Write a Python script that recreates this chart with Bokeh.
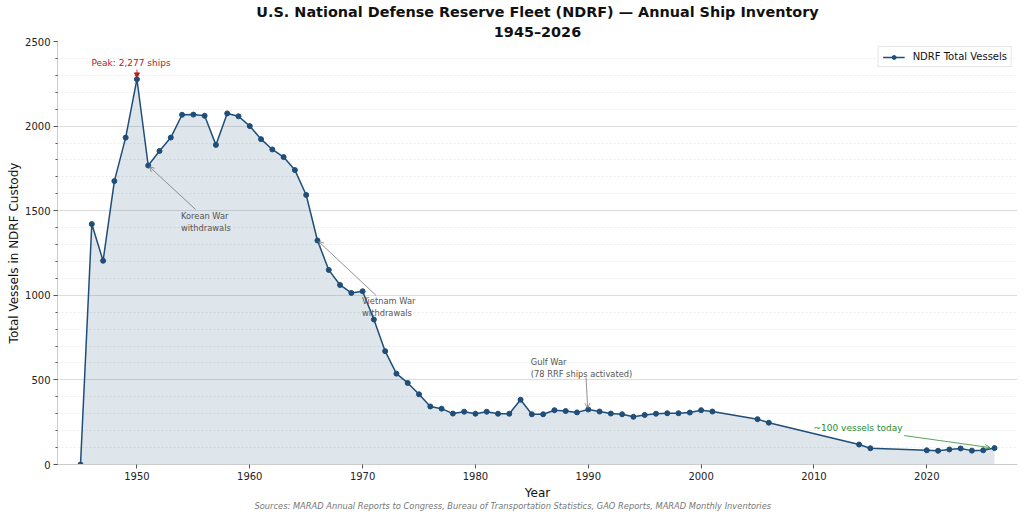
from bokeh.plotting import figure
from bokeh.models import (Range1d, SingleIntervalTicker, Arrow, OpenHead, NormalHead,
                          Label, Title)
from bokeh.embed import file_html
from bokeh.resources import INLINE

# ---- data ----
years = [1945, 1946, 1947, 1948, 1949, 1950, 1951, 1952, 1953, 1954, 1955, 1956, 1957,
         1958, 1959, 1960, 1961, 1962, 1963, 1964, 1965, 1966, 1967, 1968, 1969, 1970,
         1971, 1972, 1973, 1974, 1975, 1976, 1977, 1978, 1979, 1980, 1981, 1982, 1983,
         1984, 1985, 1986, 1987, 1988, 1989, 1990, 1991, 1992, 1993, 1994, 1995, 1996,
         1997, 1998, 1999, 2000, 2001, 2005, 2006, 2014, 2015, 2020, 2021, 2022, 2023,
         2024, 2025, 2026]
vessels = [0, 1421, 1204, 1675, 1932, 2277, 1767, 1853, 1932, 2067, 2068, 2061, 1889,
           2075, 2058, 2000, 1923, 1862, 1817, 1740, 1593, 1324, 1150, 1061, 1014, 1024,
           857, 670, 537, 482, 415, 343, 330, 301, 312, 300, 312, 300, 300,
           383, 297, 297, 321, 316, 308, 325, 313, 301, 297, 282, 293, 300,
           303, 303, 307, 321, 313, 268, 247, 118, 96, 84, 81, 89, 95,
           82, 84, 97]
series_label = "NDRF Total Vessels"
title_line1 = "U.S. National Defense Reserve Fleet (NDRF) \u2014 Annual Ship Inventory"
title_line2 = "1945\u20132026"
source_text = ("Sources: MARAD Annual Reports to Congress, Bureau of Transportation Statistics, "
               "GAO Reports, MARAD Monthly Inventories")

FONT = "DejaVu Sans"
LINE = "#1f4e79"

p = figure(width=1020, height=512, output_backend="svg", toolbar_location=None,
           x_range=Range1d(1942.96, 2028.04), y_range=Range1d(0, 2500),
           min_border_left=57, min_border_right=3, min_border_top=41, min_border_bottom=48,
           title=None)
p.outline_line_color = None
p.background_fill_color = "white"

# titles (added inner-most first)
p.add_layout(Title(text=title_line2, align="center", text_font=FONT, text_font_size="14.4px",
                   text_font_style="bold", text_color="#111111", standoff=4), "above")
p.add_layout(Title(text=title_line1, align="center", text_font=FONT, text_font_size="14.4px",
                   text_font_style="bold", text_color="#111111", standoff=0), "above")

# area + line + markers
p.varea(x=years, y1=0, y2=vessels, fill_color=LINE, fill_alpha=0.15)
p.line(years, vessels, line_color=LINE, line_width=1.5, legend_label=series_label)
p.scatter(years, vessels, size=5, fill_color=LINE, line_color=LINE, legend_label=series_label)

# axes
p.xaxis.ticker = SingleIntervalTicker(interval=10, num_minor_ticks=0)
p.yaxis.ticker = SingleIntervalTicker(interval=500, num_minor_ticks=5)
for ax in (p.xaxis[0], p.yaxis[0]):
    ax.axis_line_color = "#cccccc"
    ax.major_tick_line_color = "#555555"
    ax.minor_tick_line_color = "#555555"
    ax.major_tick_out = 4
    ax.major_tick_in = 0
    ax.minor_tick_out = 2
    ax.minor_tick_in = 0
    ax.major_label_text_font = FONT
    ax.major_label_text_font_size = "10px"
    ax.major_label_text_color = "#222222"
    ax.axis_label_text_font = FONT
    ax.axis_label_text_font_size = "12px"
    ax.axis_label_text_font_style = "normal"
    ax.axis_label_text_color = "#111111"
p.xaxis.minor_tick_line_color = None
p.xaxis.axis_label = "Year"
p.yaxis.axis_label = "Total Vessels in NDRF Custody"
p.xaxis.major_label_standoff = 3
p.xaxis.axis_label_standoff = 3
p.yaxis.major_label_standoff = 3
p.yaxis.axis_label_standoff = 1

# grids
p.xgrid.grid_line_color = None
p.ygrid.grid_line_color = "#dddddd"
p.ygrid.grid_line_width = 1
p.ygrid.minor_grid_line_color = "#e8e8e8"
p.ygrid.minor_grid_line_dash = "2 2"
p.ygrid.minor_grid_line_width = 0.8

# source note
p.add_layout(Title(text=source_text, align="left", offset=197, text_font=FONT,
                   text_font_size="8.3px", text_font_style="italic", text_color="#777777",
                   standoff=-7), "below")

# annotations
GRAY = "#555555"
def note(x, y, text, color, size, baseline="top"):
    p.add_layout(Label(x=x, y=y, text=text, text_font=FONT, text_font_size=size,
                       text_color=color, text_align="left", text_baseline=baseline))

def arrow(x0, y0, x1, y1, color, filled=False):
    head = (NormalHead(size=5, fill_color=color, line_color=color) if filled
            else OpenHead(size=5, line_color=color, line_width=0.8))
    p.add_layout(Arrow(end=head, x_start=x0, y_start=y0, x_end=x1, y_end=y1,
                       line_color=color, line_width=0.8))

note(1945.97, 2370, "Peak: 2,277 ships", "#b22222", "9px", "middle")
arrow(1950, 2335, 1950, 2285, "#b22222", filled=True)

note(1953.9, 1501, "Korean War\nwithdrawals", GRAY, "8.3px")
arrow(1955.2, 1507, 1951.1, 1760, "#777777")

note(1969.95, 993, "Vietnam War\nwithdrawals", GRAY, "8.3px")
arrow(1971.2, 999, 1966.1, 1318, "#777777")

note(1984.9, 638, "Gulf War\n(78 RRF ships activated)", GRAY, "8.3px")
arrow(1989.8, 514, 1989.95, 333, "#777777")

note(2009.96, 213, "~100 vessels today", "#2e8b2e", "9px", "middle")
arrow(2018.0, 171, 2025.6, 100, "#2e8b2e")

# legend
lg = p.legend[0]
lg.location = "top_right"
lg.margin = 5
lg.padding = 4
lg.spacing = 0
lg.glyph_width = 22
lg.glyph_height = 10
lg.label_height = 10
lg.label_standoff = 8
lg.label_text_font = FONT
lg.label_text_font_size = "10px"
lg.label_text_color = "#111111"
lg.border_line_color = "#cccccc"
lg.border_line_width = 1
lg.background_fill_alpha = 0.9

open("out.html", "w").write(file_html(p, INLINE))
